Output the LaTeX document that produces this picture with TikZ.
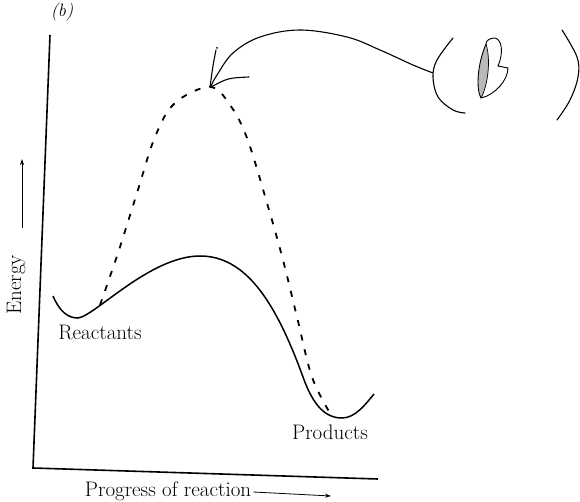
\documentclass[tikz,border=0pt]{standalone}
\usetikzlibrary{arrows.meta}
\begin{document}
\begin{tikzpicture}[x=1pt,y=-1pt,
  lbl/.style={font=\fontsize{21}{24}\selectfont, inner sep=0pt},
  axis/.style={line width=1.6pt},
  curve/.style={line width=1.5pt},
  dcurve/.style={line width=1.8pt, dash pattern=on 6pt off 9pt},
  hand/.style={line width=1.1pt, line cap=round},
  smallarrow/.style={line width=0.8pt, -{Stealth[length=6pt,width=4pt]}}]
\useasboundingbox (0,0) rectangle (580,502);
% axes
\coordinate (ytop) at (50,35);
\coordinate (orig) at (33,468);
\coordinate (xend) at (378,479);
\draw[axis] (ytop) -- (orig) -- (xend);
% labels
\node[font=\fontsize{18}{20}\selectfont\itshape, inner sep=0pt] (b) at (62,12) {(b)};
\node[lbl, rotate=90] (energy) at (16,285) {Energy};
\coordinate (ea0) at (22,228);
\coordinate (ea1) at (22,159);
\draw[smallarrow] (ea0) -- (ea1);
\node[lbl] (progress) at (168,491) {Progress of reaction};
\coordinate (pa1) at (331,496);
\draw[smallarrow] (progress.east) ++(2,1) coordinate (pa0) -- (pa1);
\node[lbl] (reactants) at (100,332) {Reactants};
\node[lbl] (products) at (330,432) {Products};
% solid curve
\coordinate (rmin) at (78,318);
\coordinate (speak) at (200,256);
\coordinate (pmin) at (342,418);
\draw[curve] (53,296) .. controls (60,312) and (68,318) .. (rmin)
  .. controls (95,316) and (150,256) .. (speak)
  .. controls (245,256) and (275,300) .. (303,377)
  .. controls (313,405) and (325,418) .. (pmin)
  .. controls (355,418) and (365,405) .. (374,394);
% dashed curve
\coordinate (peak) at (210,87);
\draw[dcurve] plot[smooth, tension=0.6] coordinates {(100,305) (118,253) (137,193) (155,137) (175,103) (210,87) (230,105) (247,138) (267,203) (283,260) (297,317) (312,377) (330,413)};
% handwritten annotation
\draw[hand] plot[smooth, tension=0.6] coordinates {(433,73) (413,65) (380,50) (347,37) (300,30) (260,37) (233,53) (217,75) (211,86)};
\draw[hand] (216,50) .. controls (213,65) .. (210,87);
\draw[hand] (249,77) .. controls (228,78) .. (211,87);
\fill (217,48) circle (1pt);
\draw[hand] plot[smooth, tension=0.6] coordinates {(453,38) (437,60) (433,77) (438,97) (453,110) (465,113)};
\draw[hand] plot[smooth, tension=0.6] coordinates {(562,30) (577,57) (578,77) (570,100) (557,120)};
% handwritten B
\fill[gray!55] (486,44) .. controls (477,65) and (476,90) .. (481,98) .. controls (488,85) and (491,60) .. (486,44);
\draw[line width=0.9pt] (486,44) .. controls (477,65) and (476,90) .. (481,98) .. controls (495,95) and (508,80) .. (508,68) -- (498,66) .. controls (503,55) and (503,40) .. (495,38) .. controls (489,38) and (486,41) .. (486,44);
\draw[line width=0.7pt] (481,98) .. controls (488,85) and (491,60) .. (486,44);
\end{tikzpicture}
\end{document}
